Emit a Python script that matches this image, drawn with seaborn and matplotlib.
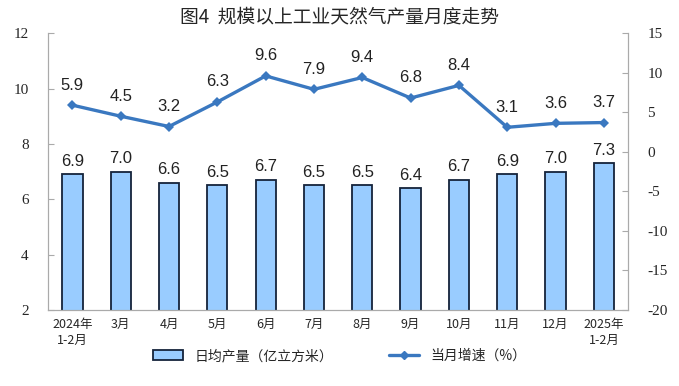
import matplotlib
matplotlib.use("Agg")
import matplotlib.pyplot as plt
import seaborn as sns
import pandas as pd
import numpy as np
from matplotlib.patches import Patch
from matplotlib.lines import Line2D

months = ["2024年\n1-2月", "3月", "4月", "5月", "6月", "7月", "8月", "9月",
          "10月", "11月", "12月", "2025年\n1-2月"]
daily_output = [6.9, 7.0, 6.6, 6.5, 6.7, 6.5, 6.5, 6.4, 6.7, 6.9, 7.0, 7.3]
growth = [5.9, 4.5, 3.2, 6.3, 9.6, 7.9, 9.4, 6.8, 8.4, 3.1, 3.6, 3.7]

sns.set_style("white")
plt.rcParams["font.family"] = ["Noto Sans CJK SC", "DejaVu Sans"]
plt.rcParams["axes.unicode_minus"] = False

df = pd.DataFrame({"month": months, "output": daily_output, "growth": growth})

fig = plt.figure(figsize=(6.79, 3.86), dpi=100)
ax = fig.add_axes([0.071, 0.197, 0.854, 0.717])

sns.barplot(data=df, x="month", y="output", ax=ax, color="#99CCFF",
            edgecolor="#15233A", linewidth=1.3, width=0.42, saturation=1)
ax.set_ylim(2, 12)
ax.set_yticks(range(2, 13, 2))
ax.set_xlim(-0.5, len(months) - 0.5)
ax.set_xlabel("")
ax.set_ylabel("")
for i, v in enumerate(daily_output):
    ax.text(i, v + 0.2, f"{v:.1f}", ha="center", va="bottom", fontsize=12,
            family="Liberation Sans", color="#222222")

ax2 = ax.twinx()
sns.lineplot(x=np.arange(len(months)), y=growth, ax=ax2, color="#3A78C0",
             linewidth=2.4, marker="D", markersize=5, markeredgewidth=0)
ax2.set_ylim(-20, 15)
ax2.set_yticks(range(-20, 16, 5))
for i, v in enumerate(growth):
    ax2.text(i, v + 1.6, f"{v:.1f}", ha="center", va="bottom", fontsize=12,
             family="Liberation Sans", color="#222222")

for a in (ax, ax2):
    for s in a.spines.values():
        s.set_color("#AAAAAA")
        s.set_linewidth(0.8)
    a.spines["top"].set_visible(False)
ax.tick_params(axis="y", direction="in", length=4, color="#AAAAAA", labelsize=11, pad=14)
ax2.tick_params(axis="y", direction="in", length=4, color="#AAAAAA", labelsize=11, pad=14)
for lab in ax.get_yticklabels() + ax2.get_yticklabels():
    lab.set_family("Liberation Serif")
ax.set_xticks(np.arange(len(months)))
ax.set_xticklabels(months, fontsize=9, linespacing=1.3)
ax.tick_params(axis="x", length=0, pad=6)
ax.set_xticks(np.arange(-0.5, len(months)), minor=True)
ax.tick_params(axis="x", which="minor", direction="in", length=3, color="#AAAAAA")

fig.text(0.5, 0.955, "图4  规模以上工业天然气产量月度走势", ha="center", va="center",
         fontsize=13.5)

handles = [Patch(facecolor="#99CCFF", edgecolor="#15233A", linewidth=1.3),
           Line2D([0], [0], color="#3A78C0", linewidth=2.4, marker="D", markersize=4)]
fig.legend(handles, ["日均产量（亿立方米）", "当月增速（%）"], loc="center",
           bbox_to_anchor=(0.5, 0.078), ncol=2, frameon=False, fontsize=10,
           columnspacing=4, handlelength=2.2)

fig.savefig("out.png", dpi=100)
